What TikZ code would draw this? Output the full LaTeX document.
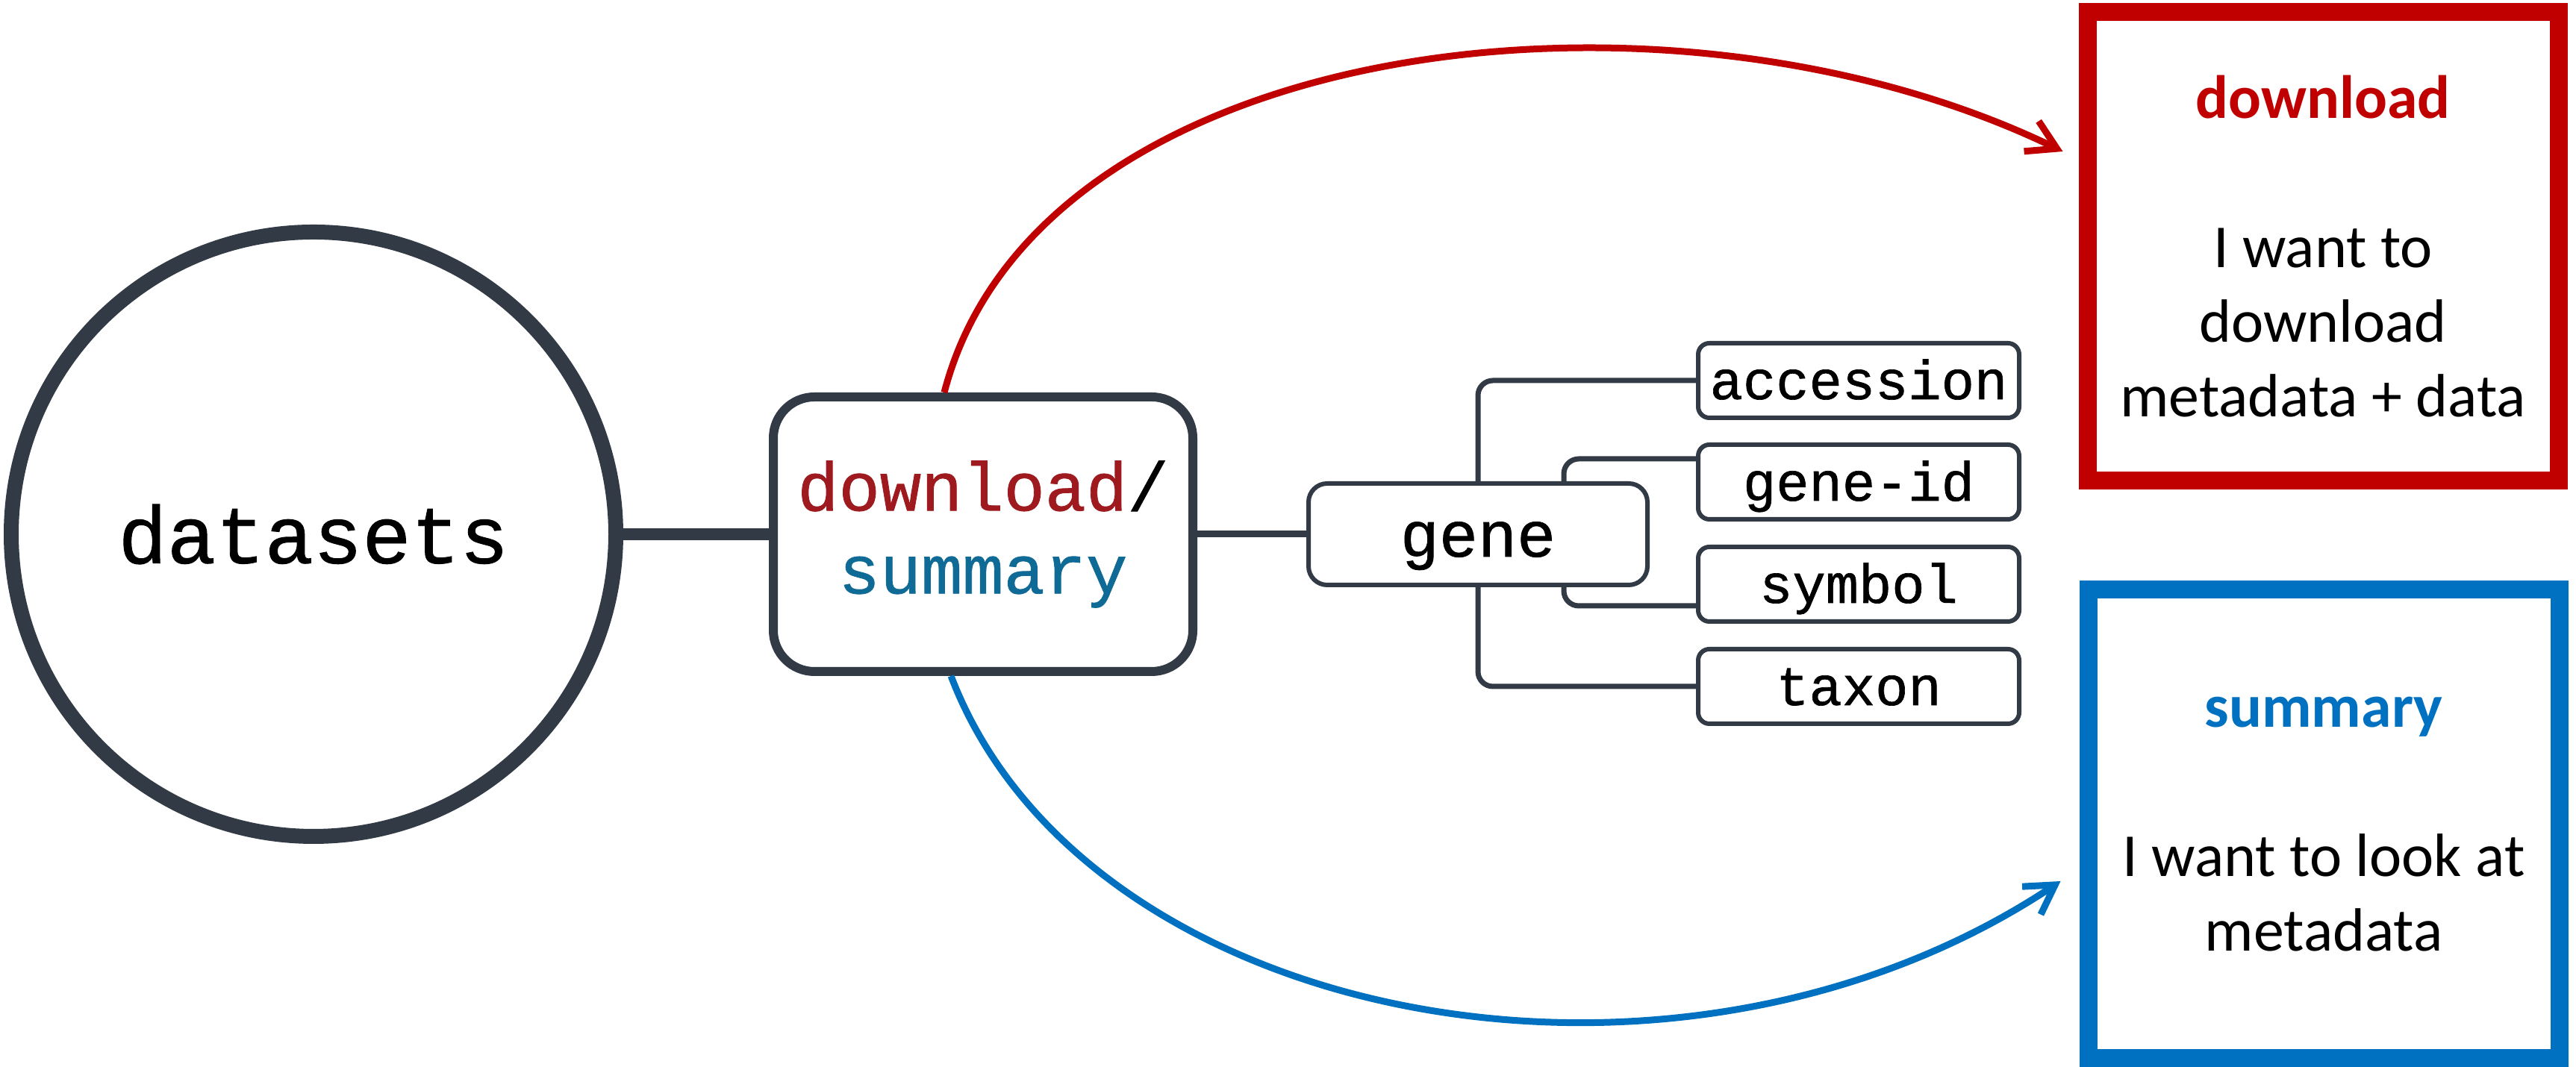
\documentclass[tikz,border=0pt]{standalone}
\usepackage{fontspec}
\setmainfont{Carlito}
\newfontfamily\codefont[FakeBold=0.9]{Liberation Mono}
\usetikzlibrary{arrows.meta}
\definecolor{linegray}{RGB}{50,58,69}
\definecolor{dlred}{RGB}{192,0,0}
\definecolor{smblue}{RGB}{0,112,192}
\definecolor{cmdred}{RGB}{158,26,31}
\definecolor{cmdblue}{RGB}{16,106,150}

\begin{document}
\begin{tikzpicture}[
        leaf/.style={draw=linegray, line width=0.06cm, rounded corners=0.15cm, minimum width=4.3cm, minimum height=1.0cm, inner sep=0pt, text height=0.6cm, text depth=0.1cm, font=\codefont\fontsize{21}{25}\selectfont},
        branch/.style={draw=linegray, line width=0.07cm, rounded corners=0.2cm},
        usebox/.style={line width=0.24cm, minimum width=6.31cm, minimum height=6.28cm, inner sep=0pt, align=center, font=\fontsize{23.3}{28.45}\selectfont},
        usearrow/.style={line width=0.09cm, -{Straight Barb[length=0.38cm,width=0.45cm]}}
    ]
        \useasboundingbox (0, 0) rectangle (34.51, 14.30);
        
        \node[circle, draw=linegray, line width=0.2cm, minimum size=8.1cm, font=\codefont\fontsize{31}{37}\selectfont] (ds) at (4.20, 7.14) {datasets};
        \node[draw=linegray, line width=0.12cm, rounded corners=0.55cm, minimum width=5.62cm, minimum height=3.68cm, align=center, font=\codefont\fontsize{26.2}{31.6}\selectfont] (cmd) at (13.17, 7.14) {{\color{cmdred}download}/\\{\color{cmdblue}summary}};
        \node[draw=linegray, line width=0.06cm, rounded corners=0.25cm, minimum width=4.54cm, minimum height=1.36cm, inner sep=0pt, text height=0.7cm, text depth=0.1cm, font=\codefont\fontsize{24.7}{30}\selectfont] (gene) at (19.80, 7.14) {gene};
        
        \node[leaf] (acc) at (24.90, 9.20) {accession};
        \node[leaf] (geneid) at (24.90, 7.84) {gene-id};
        \node[leaf] (symbol) at (24.90, 6.47) {symbol};
        \node[leaf] (taxon) at (24.90, 5.10) {taxon};
        
        \draw[linegray, line width=0.16cm] (ds.east) -- (cmd.west);
        \draw[linegray, line width=0.09cm] (cmd.east) -- (gene.west);
        \draw[branch] (gene.north) |- (acc.west);
        \draw[branch] ([xshift=1.15cm]gene.north) |- ([yshift=0.31cm]geneid.west);
        \draw[branch] ([xshift=1.15cm]gene.south) |- ([yshift=-0.29cm]symbol.west);
        \draw[branch] (gene.south) |- (taxon.west);
        
        \node[usebox, draw=dlred] (dlbox) at (31.12, 11.00) {{\color{dlred}\bfseries download}\\[1cm]I want to\\download\\metadata + data};
        \node[usebox, draw=smblue] (smbox) at (31.13, 3.255) {{\color{smblue}\bfseries summary}\\[1cm]I want to look at\\metadata};
        
        % download goes over the top, summary under the bottom
        \draw[usearrow, dlred] ([xshift=-0.52cm]cmd.north) .. controls +(1.24, 4.77) and +(-5.33, 2.58) .. ([shift={(-0.21cm, 1.27cm)}]dlbox.west);
        \draw[usearrow, smblue] ([xshift=-0.43cm]cmd.south) .. controls +(1.79, -4.69) and +(-5.17, -3.44) .. ([shift={(-0.25cm, -0.765cm)}]smbox.west);
\end{tikzpicture}
\end{document}
